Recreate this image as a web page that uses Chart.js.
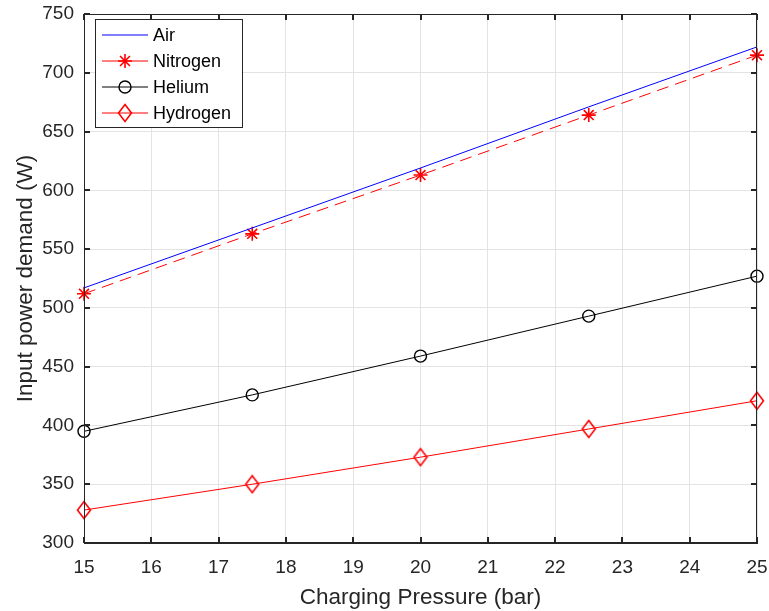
<!DOCTYPE html>
<html>
<head>
<meta charset="utf-8">
<script src="https://cdn.jsdelivr.net/npm/chart.js@4/dist/chart.umd.min.js"></script>
<style>
  body { margin: 0; background: #fff; }
  canvas { display: block; }
</style>
</head>
<body>
<canvas id="powerChart" width="769" height="611"></canvas>
<script>
var pressure = [15, 17.5, 20, 22.5, 25];
var airPower = [517, 568, 619, 671, 722];
var nitrogenPower = [512, 563, 613, 664, 715];
var heliumPower = [395, 426, 459, 493, 527];
var hydrogenPower = [328, 350, 373, 397, 421];

var axisColor = '#262626';
var gridColor = '#e3e3e3';
var fontFamily = 'Liberation Sans, Arial, sans-serif';

function toPoints(ys) {
  return pressure.map(function (p, i) { return { x: p, y: ys[i] }; });
}

// tall open diamond marker
function diamondMarker(color) {
  var c = document.createElement('canvas');
  c.width = 16; c.height = 20;
  var g = c.getContext('2d');
  g.strokeStyle = color;
  g.lineWidth = 1.6;
  g.beginPath();
  g.moveTo(8, 1.5); g.lineTo(14.5, 10); g.lineTo(8, 18.5); g.lineTo(1.5, 10);
  g.closePath();
  g.stroke();
  return c;
}
var redDiamond = diamondMarker('#ff0000');

// box outline plus inward ticks on all four sides
var boxAxes = {
  id: 'boxAxes',
  afterDraw: function (chart) {
    var ctx = chart.ctx, a = chart.chartArea;
    var xs = chart.scales.x, ys = chart.scales.y;
    var L = Math.round(a.left), R = Math.round(a.right), T = Math.round(a.top), B = Math.round(a.bottom);
    ctx.save();
    ctx.strokeStyle = axisColor;
    ctx.lineWidth = 1;
    ctx.strokeRect(L + 0.5, T + 0.5, R - L - 1, B - T - 1);
    ctx.lineWidth = 2;
    ctx.beginPath();
    xs.ticks.forEach(function (t) {
      var px = Math.round(xs.getPixelForValue(t.value));
      ctx.moveTo(px, B); ctx.lineTo(px, B - 6);
      ctx.moveTo(px, T); ctx.lineTo(px, T + 6);
    });
    ys.ticks.forEach(function (t) {
      var py = Math.round(ys.getPixelForValue(t.value));
      ctx.moveTo(L, py); ctx.lineTo(L + 6, py);
      ctx.moveTo(R, py); ctx.lineTo(R - 6, py);
    });
    ctx.stroke();
    ctx.restore();
  }
};

// legend box in the upper left corner of the plot area
var insideLegend = {
  id: 'insideLegend',
  afterDraw: function (chart) {
    var ctx = chart.ctx, a = chart.chartArea;
    var x0 = Math.round(a.left) + 11, y0 = Math.round(a.top) + 5, w = 147, rowH = 26;
    var sets = chart.data.datasets;
    var h = rowH * sets.length + 4;
    ctx.save();
    ctx.fillStyle = '#fff';
    ctx.fillRect(x0, y0, w, h);
    ctx.strokeStyle = axisColor;
    ctx.lineWidth = 1;
    ctx.strokeRect(x0 + 0.5, y0 + 0.5, w, h);
    sets.forEach(function (ds, i) {
      var cy = y0 + 16 + i * rowH;
      ctx.strokeStyle = ds.borderColor;
      ctx.lineWidth = 1;
      ctx.setLineDash([]);
      ctx.beginPath();
      ctx.moveTo(x0 + 7, cy); ctx.lineTo(x0 + 53, cy);
      ctx.stroke();
      if (ds.pointStyle && ds.pointRadius > 0) {
        ctx.strokeStyle = ds.pointBorderColor;
        ctx.fillStyle = 'rgba(0,0,0,0)';
        ctx.lineWidth = ds.pointBorderWidth;
        Chart.helpers.drawPoint(ctx, {
          pointStyle: ds.pointStyle, radius: ds.pointRadius,
          borderWidth: ds.pointBorderWidth, rotation: 0
        }, x0 + 30, cy);
      }
      ctx.fillStyle = '#000';
      ctx.font = '18px ' + fontFamily;
      ctx.textBaseline = 'middle';
      ctx.fillText(ds.label, x0 + 58, cy + 1);
    });
    ctx.restore();
  }
};

new Chart(document.getElementById('powerChart'), {
  type: 'line',
  data: {
    datasets: [{
      label: 'Air',
      data: toPoints(airPower),
      borderColor: '#0000ff',
      borderWidth: 1,
      pointRadius: 0,
      pointStyle: false
    }, {
      label: 'Nitrogen',
      data: toPoints(nitrogenPower),
      borderColor: '#ff0000',
      borderWidth: 1,
      borderDash: [12, 7],
      pointStyle: 'star',
      pointRadius: 7,
      pointBorderWidth: 1.6,
      pointBorderColor: '#ff0000',
      pointBackgroundColor: 'rgba(0,0,0,0)'
    }, {
      label: 'Helium',
      data: toPoints(heliumPower),
      borderColor: '#000000',
      borderWidth: 1,
      pointStyle: 'circle',
      pointRadius: 6,
      pointBorderWidth: 1.4,
      pointBorderColor: '#000000',
      pointBackgroundColor: 'rgba(0,0,0,0)'
    }, {
      label: 'Hydrogen',
      data: toPoints(hydrogenPower),
      borderColor: '#ff0000',
      borderWidth: 1,
      pointStyle: redDiamond,
      pointRadius: 8,
      pointBorderWidth: 1.4,
      pointBorderColor: '#ff0000',
      pointBackgroundColor: 'rgba(0,0,0,0)'
    }]
  },
  options: {
    responsive: false,
    animation: false,
    clip: false,
    layout: { padding: { top: 14, right: 12, left: 0, bottom: 0 } },
    plugins: {
      legend: { display: false },
      tooltip: { enabled: false }
    },
    elements: { line: { tension: 0 } },
    scales: {
      x: {
        type: 'linear',
        min: 15,
        max: 25,
        afterFit: function (s) { s.height = 68; s.paddingLeft = 0; s.paddingRight = 0; },
        ticks: { stepSize: 1, color: axisColor, font: { size: 19, family: fontFamily }, padding: 13 },
        grid: { color: gridColor, drawTicks: false },
        border: { color: axisColor },
        title: {
          display: true,
          text: 'Charging Pressure (bar)',
          color: axisColor,
          font: { size: 22.5, family: fontFamily },
          padding: { top: 0, bottom: 0 }
        }
      },
      y: {
        min: 300,
        max: 750,
        afterFit: function (s) { s.width = 84; s.paddingTop = 0; s.paddingBottom = 0; },
        ticks: { stepSize: 50, color: axisColor, font: { size: 19, family: fontFamily }, padding: 10 },
        grid: { color: gridColor, drawTicks: false },
        border: { color: axisColor },
        title: {
          display: true,
          text: 'Input power demand (W)',
          color: axisColor,
          font: { size: 22.5, family: fontFamily },
          padding: { top: 12, bottom: 0 }
        }
      }
    }
  },
  plugins: [boxAxes, insideLegend]
});
</script>
</body>
</html>
